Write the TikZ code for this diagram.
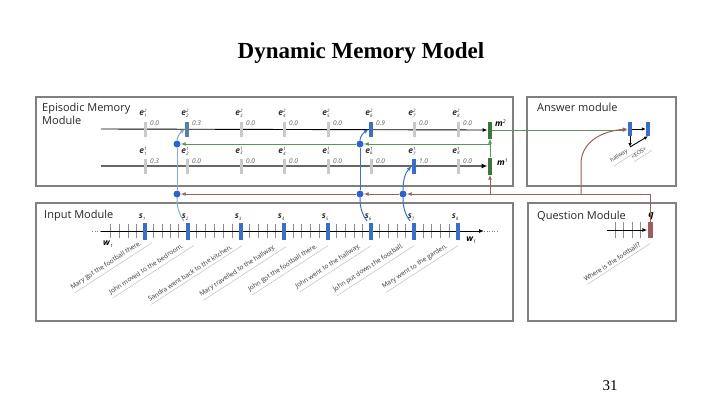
\documentclass[tikz,border=0pt]{standalone}
\usepackage{fontspec}
\setmainfont{Liberation Serif}
\setsansfont{Open Sans}
\usetikzlibrary{arrows.meta}

\definecolor{framegray}{HTML}{808080}
\definecolor{tickgray}{HTML}{C9C9C9}
\definecolor{steelblue}{HTML}{5A7FA6}
\definecolor{tickblue}{HTML}{3A6FC6}
\definecolor{mgreen}{HTML}{3F743F}
\definecolor{lgreen}{HTML}{5A9458}
\definecolor{qbrown}{HTML}{9E5F58}
\definecolor{dotblue}{HTML}{2D64CC}
\definecolor{paleblue}{HTML}{86A9CE}
\definecolor{brightblue}{HTML}{3A72D2}

% variable labels with stacked indices
\newcommand{\evar}[2]{\textbf{\textit{e}}\rlap{\raisebox{3.2pt}{\fontsize{4.5}{4.5}\selectfont\itshape #1}}\raisebox{-1.6pt}{\fontsize{4.5}{4.5}\selectfont\itshape #2}}
\newcommand{\svar}[1]{\textbf{\textit{s}}\raisebox{-1.6pt}{\fontsize{4.5}{4.5}\selectfont\itshape #1}}
\newcommand{\wvar}[1]{\textbf{\textit{w}}\raisebox{-1.6pt}{\fontsize{4.5}{4.5}\selectfont\itshape #1}}
\newcommand{\mvar}[1]{\textbf{\textit{m}}\raisebox{3.2pt}{\fontsize{5}{5}\selectfont\itshape #1}}

\begin{document}
\begin{tikzpicture}[x=1pt,y=-1pt,
  frame/.style={draw=framegray, line width=1.1pt},
  modlabel/.style={anchor=base west, inner sep=0, font=\sffamily\fontsize{11}{11}\selectfont, text=black!85},
  gtick/.style={fill=tickgray, draw=none, minimum width=3pt, minimum height=15pt, inner sep=0},
  stick/.style={gtick, fill=steelblue, minimum width=3.6pt},
  btick/.style={gtick, fill=tickblue, minimum width=4pt},
  stblock/.style={fill=tickblue, minimum width=4pt, minimum height=17pt, inner sep=0},
  mblock/.style={fill=mgreen, minimum width=4.5pt, minimum height=17pt, inner sep=0},
  ablock/.style={fill=tickblue, minimum width=4pt, minimum height=14pt, inner sep=0},
  qblock/.style={fill=qbrown, minimum width=5pt, minimum height=16pt, inner sep=0},
  elab/.style={inner sep=0, font=\sffamily\fontsize{8.5}{8.5}\selectfont, text=black!80},
  val/.style={anchor=west, inner sep=0, font=\sffamily\itshape\fontsize{6.5}{6.5}\selectfont, text=black!65},
  dot/.style={circle, fill=dotblue, minimum size=7pt, inner sep=0},
  sent/.style={rotate=33, anchor=base east, inner xsep=0, inner ysep=2.6pt, font=\sffamily\fontsize{6.5}{6.5}\selectfont, text=black!80},
  smallsent/.style={sent, font=\sffamily\fontsize{5.5}{5.5}\selectfont},
  uline/.style={draw=black!25, line width=0.5pt, shorten >=-9pt},
  tip/.style={-{Latex[length=5pt,width=4pt]}},
  gline/.style={draw=lgreen, line width=1pt},
  rline/.style={draw=qbrown, line width=1pt},
  wtick/.style={draw=black!45, line width=0.6pt}
]
\useasboundingbox (0,0) rectangle (720,405);

% title and page number
\node[anchor=base, font=\rmfamily\bfseries\fontsize{23}{23}\selectfont] (title) at (361,58) {Dynamic Memory Model};
\node[anchor=base, font=\rmfamily\fontsize{15}{15}\selectfont] (page) at (610,390) {31};

% module frames
\draw[frame] (36,97) rectangle (513,186);
\draw[frame] (527,97) rectangle (676,186);
\draw[frame] (36,203) rectangle (513,321);
\draw[frame] (528,203) rectangle (676,321);

\node[modlabel] (memlab1) at (42,111) {Episodic Memory};
\node[modlabel] (memlab2) at (42,124) {Module};
\node[modlabel] (anslab) at (537,111) {Answer module};
\node[modlabel] (inlab) at (44,218) {Input Module};
\node[modlabel] (qlab) at (537,219) {Question Module};

% ---------------- episodic memory ----------------
\node[mblock] (m2) at (490,130) {};
\node[mblock] (m1) at (490,166) {};
\node[anchor=west, inner sep=0, font=\sffamily\fontsize{8.5}{8.5}\selectfont] (m2lab) at (495,123) {\mvar{2}};
\node[anchor=west, inner sep=0, font=\sffamily\fontsize{8.5}{8.5}\selectfont] (m1lab) at (497,162) {\mvar{1}};

\coordinate (top0) at (101,129);
\coordinate (bot0) at (101,166);
\draw[black, line width=0.9pt, tip] (top0) -- (m2.west);
\draw[black!60, line width=1.6pt, -{Latex[length=6pt,width=5pt,color=black]}] (bot0) -- (m1.west);

\foreach \i/\x/\vt/\vb/\st/\sb in {1/145/0.0/0.3/gtick/gtick, 2/187/0.3/0.0/stick/gtick, 3/241/0.0/0.0/gtick/gtick, 4/284/0.0/0.0/gtick/gtick, 5/328/0.0/0.0/gtick/gtick, 6/371/0.9/0.0/btick/gtick, 7/414/0.0/1.0/gtick/btick, 8/458/0.0/0.0/gtick/gtick}{
  \node[\st] (et\i) at (\x,129) {};
  \node[\sb] (eb\i) at (\x,166) {};
  \node[elab] (etl\i) at (\x-2,113) {\evar{2}{\i}};
  \node[elab] (ebl\i) at (\x-2,151) {\evar{1}{\i}};
  \node[val] (etv\i) at (\x+5,123) {\vt};
  \node[val] (ebv\i) at (\x+5,161) {\vb};
}

% attention dots
\node[dot] (g2) at (177,144) {};
\node[dot] (g6) at (360,144) {};
\node[dot] (r2) at (177,194) {};
\node[dot] (r6) at (360,194) {};
\node[dot] (r7) at (403,194) {};

% memory update (green)
\coordinate (gj) at (490,144);
\draw[gline, -{Latex[open,length=5pt,width=4.5pt]}] (m1.north) -- (m2.south);
\draw[gline, tip] (gj) -- (g6);
\draw[gline, tip] (g6) -- (g2);

% ---------------- answer module ----------------
\node[ablock] (a1) at (630,129) {};
\node[ablock] (a2) at (648,129) {};
\draw[gline, tip] (m2.east) -- (m2.east -| a1.west);
\draw[black, line width=0.9pt, -{Latex[length=4pt,width=3.5pt]}] (a1.east) -- (a2.west);
\coordinate (ac) at (630,147);
\draw[black, line width=0.9pt, -{Latex[length=4pt,width=3.5pt]}] (a1.south) -- (ac);
\draw[black, line width=0.9pt, -{Latex[length=4pt,width=3.5pt]}] (ac) -- (a2.south);
\node[smallsent] (hall) at (628,152) {hallway};
\node[smallsent] (eos) at (647,150) {<EOS>};
\draw[uline, shorten >=-4pt] (hall.south west) -- (hall.south east);
\draw[uline, shorten >=-4pt] (eos.south west) -- (eos.south east);

% ---------------- question module ----------------
\node[qblock] (q) at (650,230) {};
\node[anchor=base, inner sep=0, font=\sffamily\bfseries\itshape\fontsize{9}{9}\selectfont] (qlab2) at (651,217) {q};
\foreach \x in {615,623,632,640}{\draw[wtick] (\x,222) -- (\x,238);}
\coordinate (q0) at (607,230);
\draw[black, line width=0.9pt, tip] (q0) -- (q.west);
\node[sent] (qs) at (641,246) {Where is the football?};
\draw[uline] (qs.south west) -- (qs.south east);

% question / memory signals (brown)
\coordinate (rj) at (490,194);
\coordinate (rc) at (581,194);
\draw[rline] (q.north) |- (rj);
\draw[rline, tip] (rj) -- (m1.south);
\draw[rline, tip] (rj) -- (r7);
\draw[rline, tip] (r7) -- (r6);
\draw[rline, tip] (r6) -- (r2);
\draw[rline, tip] (rc) -- ++(0,-30) .. controls +(0,-22) and +(-26,2) .. (a1.west);

% ---------------- input module ----------------
\coordinate (w0) at (101,231);
\coordinate (wT) at (484,231);
\draw[black!50, line width=0.6pt, dotted] (92,231) -- (w0);
\draw[black!50, line width=0.6pt, dotted] (wT) -- (498,231);
\foreach \a/\b/\n in {102/145/4, 145/187/4, 187/241/5, 241/284/4, 284/328/4, 328/371/4, 371/414/4, 414/458/4}{
  \foreach \k in {1,...,\n}{
    \draw[wtick] ({\a+\k*(\b-\a)/(\n+1)},224) -- ({\a+\k*(\b-\a)/(\n+1)},238);
  }
}
\draw[black, line width=0.9pt, tip] (w0) -- (wT);
\foreach \i/\x in {1/145, 2/188, 3/241, 4/284, 5/328, 6/371, 7/414, 8/458}{
  \node[stblock] (s\i) at (\x,231) {};
  \node[elab] (sl\i) at (\x-3,217) {\svar{\i}};
  \coordinate (sc\i) at (\x-4,221);
}
\node[elab, text=black] (w1lab) at (108,244) {\wvar{1}};
\node[elab, text=black] (wTlab) at (471,240) {\wvar{T}};

\foreach \i/\x/\y/\t in {1/142/244/Mary got the football there., 2/184/247/John moved to the bedroom., 3/233/248/Sandra went back to the kitchen., 4/276/248/Mary travelled to the hallway., 5/318/247/John got the football there., 6/361/247/John went to the hallway., 7/404/247/John put down the football., 8/448/247/Mary went to the garden.}{
  \node[sent] (txt\i) at (\x,\y) {\t};
  \draw[uline] (txt\i.south west) -- (txt\i.south east);
}

% sentence attention curves
\draw[paleblue, line width=1pt] (sc2) .. controls (178,213) and (177,205) .. (r2);
\draw[paleblue, line width=1pt] (r2) -- (g2);
\draw[paleblue, line width=1pt, tip] (g2) .. controls (177,137) and (180,133) .. (et2.west);
\draw[brightblue, line width=1pt] (sc6) .. controls (361,213) and (360,205) .. (r6);
\draw[brightblue, line width=1pt] (r6) -- (g6);
\draw[brightblue, line width=1pt, tip] (g6) .. controls (360,137) and (363,133) .. (et6.west);
\draw[brightblue, line width=1pt] (sc7) .. controls (404,213) and (403,205) .. (r7);
\draw[brightblue, line width=1pt, tip] (r7) .. controls (403,181) and (405,173) .. (eb7.west);
\end{tikzpicture}
\end{document}
